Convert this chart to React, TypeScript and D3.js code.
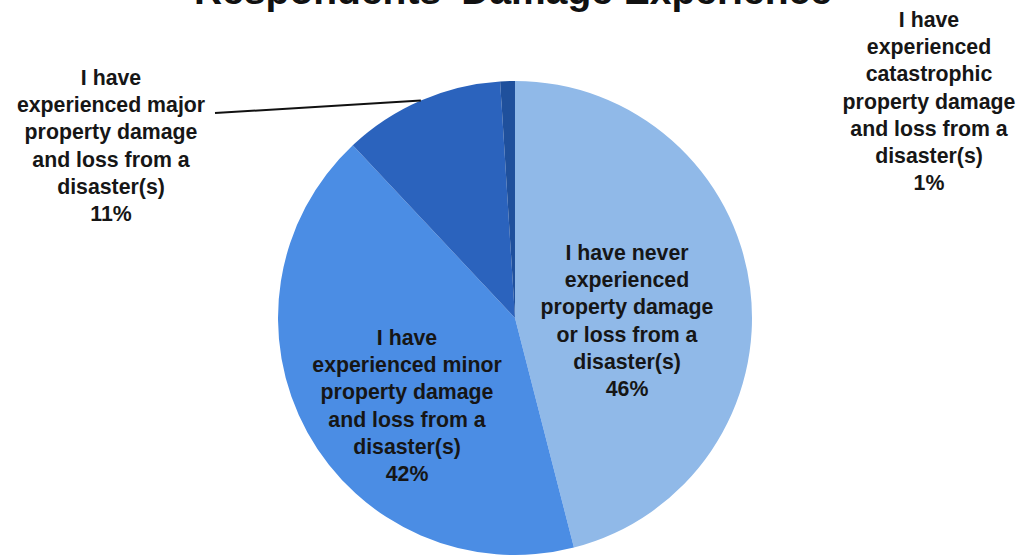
import React from "react";
import * as d3 from "d3";

const title = "Respondents' Damage Experience";
const categories = [
  "I have never experienced property damage or loss from a disaster(s)",
  "I have experienced minor property damage and loss from a disaster(s)",
  "I have experienced major property damage and loss from a disaster(s)",
  "I have experienced catastrophic property damage and loss from a disaster(s)",
];
const values = [46, 42, 11, 1];
const labelLines = [
  ["I have never", "experienced", "property damage", "or loss from a", "disaster(s)"],
  ["I have", "experienced minor", "property damage", "and loss from a", "disaster(s)"],
  ["I have", "experienced major", "property damage", "and loss from a", "disaster(s)"],
  ["I have", "experienced", "catastrophic", "property damage", "and loss from a", "disaster(s)"],
];
const colors = ["#90b9e8", "#4b8de4", "#2b63bd", "#1f509c"];

const W = 1022;
const H = 558;
const cx = 515;
const cy = 318;
const R = 237;
const lineH = 27.2;

// label anchor positions (top line baseline) for each slice
const labelPos = [
  { x: 627, y: 260 },
  { x: 407, y: 345 },
  { x: 111, y: 85 },
  { x: 929, y: 27 },
];

export default function App() {
  const pie = d3.pie<number>().sort(null).value((d) => d);
  const arcs = pie(values);
  const arcGen = d3.arc<d3.PieArcDatum<number>>().innerRadius(0).outerRadius(R);
  const outerArc = d3.arc<d3.PieArcDatum<number>>().innerRadius(R).outerRadius(R);
  const majorPt = outerArc.centroid(arcs[2]);

  return (
    <svg width={W} height={H} style={{ position: "absolute", left: 0, top: 0 }}
      fontFamily="'Liberation Sans', Arial, sans-serif">
      <rect width={W} height={H} fill="#ffffff" />
      <text x={513} y={4} textAnchor="middle" fontSize={39} fontWeight="bold" fill="#111">{title}</text>
      <g transform={`translate(${cx},${cy})`}>
        {arcs.map((a, i) => (
          <path key={categories[i]} d={arcGen(a) || ""} fill={colors[i]} />
        ))}
        <line x1={215 - cx} y1={113 - cy} x2={majorPt[0]} y2={majorPt[1]} stroke="#111" strokeWidth={2} />
      </g>
      {labelLines.map((lines, i) => (
        <text key={i} x={labelPos[i].x} y={labelPos[i].y} textAnchor="middle" fontSize={21.3}
          fontWeight="bold" fill="#161616">
          {[...lines, `${values[i]}%`].map((l, j) => (
            <tspan key={j} x={labelPos[i].x} dy={j === 0 ? 0 : lineH}>{l}</tspan>
          ))}
        </text>
      ))}
    </svg>
  );
}
